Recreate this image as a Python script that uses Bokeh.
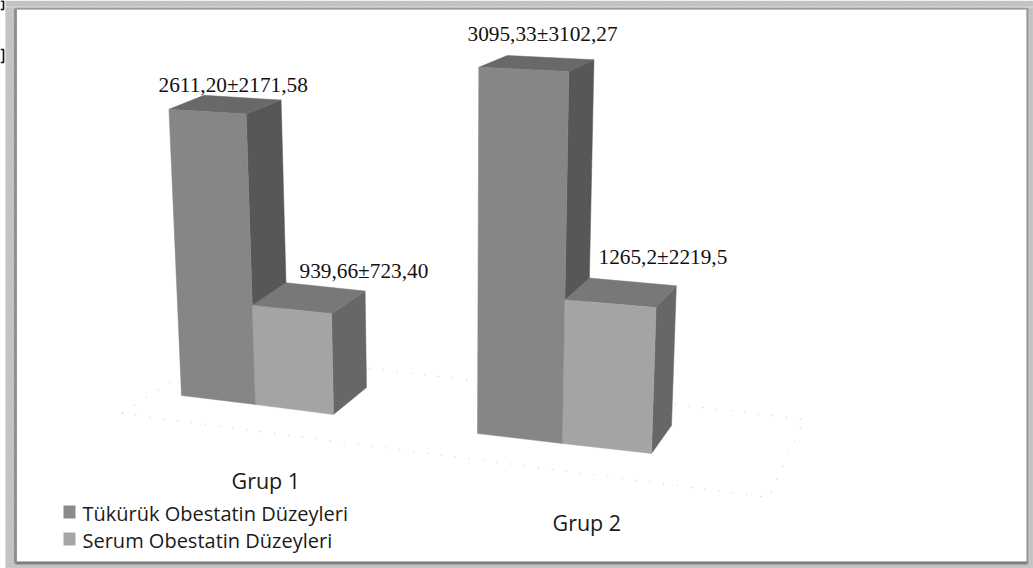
from bokeh.embed import file_html
from bokeh.models import Range1d
from bokeh.plotting import figure
from bokeh.resources import INLINE
from bokeh.core.properties import value

# Chart content
groups = ["Grup 1", "Grup 2"]
series = ["Tükürük  Obestatin Düzeyleri", "Serum Obestatin Düzeyleri"]
saliva_values = [2611.20, 3095.33]
serum_values = [939.66, 1265.2]
saliva_labels = ["2611,20±2171,58", "3095,33±3102,27"]
serum_labels = ["939,66±723,40", "1265,2±2219,5"]

W, H = 1033, 568
SERIF = value("Liberation Serif")
SANS = value("Open Sans")

p = figure(width=W, height=H, output_backend="svg", toolbar_location=None,
           x_range=Range1d(0, W), y_range=Range1d(H, 0),
           min_border=0, x_axis_location=None, y_axis_location=None,
           background_fill_color="#ffffff", border_fill_color="#ffffff")
p.outline_line_color = None
p.grid.visible = False

# Window frame around the chart area
p.quad(left=[5], right=[W], top=[0], bottom=[H], fill_color="#c6c6c6", line_color=None,
       hatch_pattern="dot", hatch_color="#b6b6b6", hatch_scale=3, hatch_weight=1)
p.quad(left=[16], right=[1026], top=[9], bottom=[561], fill_color="#ffffff", line_color=None)
p.line([15, 15, 1027, 1027], [563, 8, 8, 563], line_color="#9a9a9a", line_width=2)
p.line([15, 1027], [562.5, 562.5], line_color="#808080", line_width=3)
p.line([15, 15], [9, 562], line_color="#8a8a8a", line_width=2.5)
p.line([5, 1033], [6.5, 6.5], line_color="#dddddd", line_width=1)

# Clipped brackets at the page edge
p.line([0, 3, 3, 0], [0.5, 0.5, 9, 9], line_color="#111111", line_width=1.6)
p.line([0, 3, 3, 0], [49, 49, 62, 62], line_color="#111111", line_width=1.6)

# Dotted floor, drawn behind the bars
p.line([121, 768, 804, 218, 121], [413, 497, 419, 350, 413],
       line_color="#cfcfcf", line_width=1.2, line_dash="1 13")


def height_scale(floor_y):
    """Pixels per unit of value; points nearer the viewer sit lower and scale up."""
    return 0.0963 + (floor_y - 368) * 0.00017


def lift(corner, v):
    """Project a floor corner up to the height of value v, converging with perspective."""
    x, y = corner
    h = height_scale(y) * v * (1 + 3.3e-5 * v)
    return (x + h * (x - 455) * 0.00016, y - h)


def face(points, color):
    xs, ys = zip(*points)
    p.patch(list(xs), list(ys), fill_color=color, line_color=color, line_width=0.5)


def box(fl, fr, bl, br, v, front, side, top):
    tfl, tfr, tbl, tbr = (lift(c, v) for c in (fl, fr, bl, br))
    face([fr, br, tbr, tfr], side)
    face([tfl, tfr, tbr, tbl], top)
    face([fl, fr, tfr, tfl], front)


# Floor footprints of each group: front corners left to right, then back corners
footprints = [
    {"front": [(181, 395), (255, 404), (333, 414)], "back": [(214, 368), (288, 377), (366, 387)]},
    {"front": [(477, 433), (562, 443), (651, 453)], "back": [(504, 405), (586, 415), (671, 425)]},
]

for fp, sal, ser in zip(footprints, saliva_values, serum_values):
    f, b = fp["front"], fp["back"]
    box(f[0], f[1], b[0], b[1], sal, "#868686", "#575757", "#696969")
    box(f[1], f[2], b[1], b[2], ser, "#a4a4a4", "#676767", "#787878")

# Value labels above the bars
label_xs = [158, 467, 299, 598]
label_ys = [84, 33, 270, 256]
p.text(x=label_xs, y=label_ys, text=saliva_labels + serum_labels, text_font=SERIF,
       text_font_size="21.3px", text_color="#111111", text_baseline="middle", text_align="left")

# Group names on the floor
p.text(x=[231, 552], y=[480, 522], text=groups, text_font=SANS, text_font_size="21.5px",
       text_color="#1a1a1a", text_baseline="middle", text_align="left")

# Key
p.quad(left=[63, 63], right=[75, 75], top=[505, 532], bottom=[518, 545],
       fill_color=["#8a8a8a", "#a5a5a5"], line_color=None)
p.text(x=[82, 82], y=[513, 540], text=series, text_font=SANS, text_font_size="20px",
       text_color="#1a1a1a", text_baseline="middle", text_align="left")

open("out.html", "w").write(file_html(p, INLINE))
